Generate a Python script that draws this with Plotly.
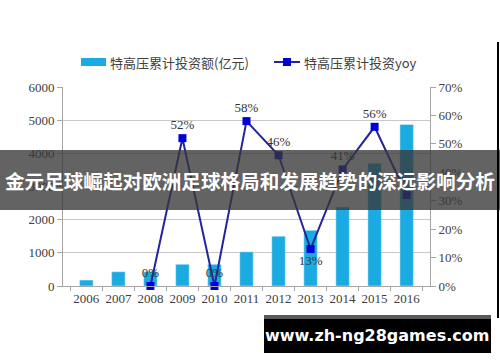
import plotly.graph_objects as go

years = ["2006", "2007", "2008", "2009", "2010", "2011", "2012", "2013", "2014", "2015", "2016"]
invest = [180, 430, 430, 655, 655, 1030, 1500, 1680, 2380, 3700, 4870]
yoy = [None, None, 0.0, 0.52, 0.0, 0.58, 0.46, 0.13, 0.41, 0.56, 0.32]
yoy_text = ["", "", "0%", "52%", "0%", "58%", "46%", "13%", "41%", "56%", ""]
yoy_pos = ["top center"] * 7 + ["bottom center"] + ["top center"] * 3

bar_name = "特高压累计投资额(亿元)"
line_name = "特高压累计投资yoy"
title_text = "金元足球崛起对欧洲足球格局和发展趋势的深远影响分析"
watermark = "www.zh-ng28games.com"

BAR_C = "#1AABE3"
LINE_C = "#23239E"
MARK_C = "#0000D8"
SERIF = "Liberation Serif"
CJK = "Noto Sans CJK SC"

# layout pixel geometry
W, H = 500, 362
L, R, T, B = 63, 70, 87, 76
PW, PH = W - L - R, H - T - B


def px(x):
    return (x - L) / PW


def py(y):
    return (H - B - y) / PH


fig = go.Figure()
fig.add_trace(go.Bar(x=years, y=invest, marker_color=BAR_C, name=bar_name,
                     showlegend=False))
fig.add_trace(go.Scatter(x=years, y=yoy, yaxis="y2", mode="lines+markers+text",
                         text=yoy_text, textposition=yoy_pos,
                         textfont=dict(family=SERIF, size=13, color="#333333"),
                         line=dict(color=LINE_C, width=2),
                         marker=dict(symbol="square", size=8, color=MARK_C),
                         name=line_name, showlegend=False, cliponaxis=False))

shapes = []
annos = []
# manual legend
shapes.append(dict(type="rect", xref="paper", yref="paper", x0=px(81), x1=px(106),
                   y0=py(66), y1=py(58), fillcolor=BAR_C, line_width=0))
annos.append(dict(xref="paper", yref="paper", x=px(108), y=py(62), xanchor="left",
                  yanchor="middle", text=bar_name, showarrow=False,
                  font=dict(family=CJK, size=13, color="#404040")))
shapes.append(dict(type="line", xref="paper", yref="paper", x0=px(274), x1=px(300),
                   y0=py(62), y1=py(62), line=dict(color=LINE_C, width=2)))
shapes.append(dict(type="rect", xref="paper", yref="paper", x0=px(283), x1=px(291),
                   y0=py(66), y1=py(58), fillcolor=MARK_C, line_width=0))
annos.append(dict(xref="paper", yref="paper", x=px(302), y=py(62), xanchor="left",
                  yanchor="middle", text=line_name, showarrow=False,
                  font=dict(family=CJK, size=13, color="#404040")))
# banner overlay
shapes.append(dict(type="rect", xref="paper", yref="paper", x0=px(0), x1=px(W),
                   y0=py(210), y1=py(150), fillcolor="rgba(55,55,55,0.78)",
                   line_width=0, layer="above"))
annos.append(dict(xref="paper", yref="paper", x=px(250), y=py(180), xanchor="center",
                  yanchor="middle", text="<b>" + title_text + "</b>", showarrow=False,
                  font=dict(family=CJK, size=19.6, color="white")))
# watermark
shapes.append(dict(type="rect", xref="paper", yref="paper", x0=px(264), x1=px(491),
                   y0=py(353), y1=py(315), fillcolor="black", line_width=0, layer="above"))
shapes.append(dict(type="rect", xref="paper", yref="paper", x0=px(264), x1=px(491),
                   y0=py(319), y1=py(315), fillcolor="#5a5a5a", line_width=0, layer="above"))
annos.append(dict(xref="paper", yref="paper", x=px(377), y=py(335), xanchor="center",
                  yanchor="middle", text="<b>" + watermark + "</b>", showarrow=False,
                  font=dict(family="DejaVu Sans", size=16, color="white")))
# right edge line
shapes.append(dict(type="line", xref="paper", yref="paper", x0=px(498), x1=px(498),
                   y0=py(318), y1=py(42), line=dict(color="black", width=2)))

fig.update_layout(
    width=W, height=H,
    margin=dict(l=L, r=R, t=T, b=B, autoexpand=False),
    paper_bgcolor="white", plot_bgcolor="white",
    bargap=0.58,
    showlegend=False,
    shapes=shapes, annotations=annos,
    xaxis=dict(type="category", showline=True, linecolor="#A6A6A6", linewidth=1,
               ticks="outside", tickson="boundaries", ticklen=4, tickcolor="#A6A6A6",
               tickangle=0, automargin=False,
               tickfont=dict(family=SERIF, size=13, color="#404040"), showgrid=False),
    yaxis=dict(range=[0, 6000], dtick=1000, showline=True, linecolor="#A6A6A6",
               ticks="outside", ticklen=5, tickcolor="#A6A6A6", gridcolor="#C8C8C8",
               automargin=False,
               tickfont=dict(family=SERIF, size=13, color="#404040"), zeroline=False),
    yaxis2=dict(range=[0, 0.7], dtick=0.1, tickformat=".0%", overlaying="y", side="right",
                showline=True, linecolor="#A6A6A6", ticks="outside", ticklen=5,
                tickcolor="#A6A6A6", showgrid=False, zeroline=False, automargin=False,
                tickfont=dict(family=SERIF, size=13, color="#404040")),
)

fig.write_html("out.html", config={"displayModeBar": False},
               post_script="document.body.style.margin='0px';")
